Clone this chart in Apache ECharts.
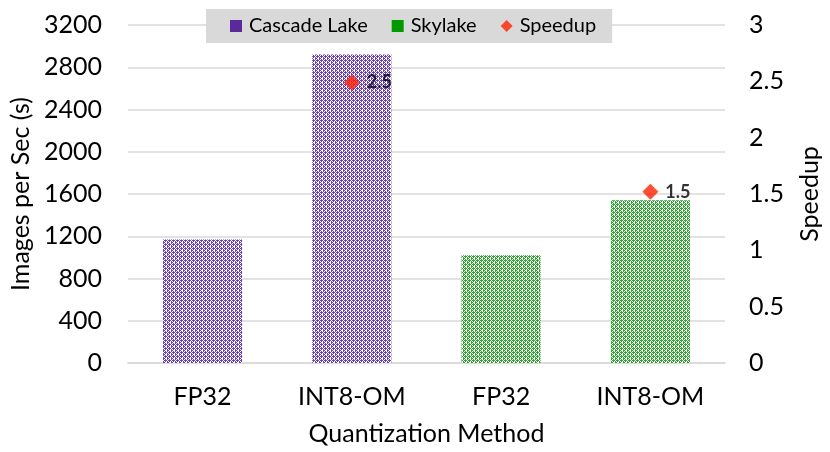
<!DOCTYPE html>
<html>
<head>
<meta charset="utf-8">
<script src="https://cdn.jsdelivr.net/npm/echarts@6/dist/echarts.min.js"></script>
<style>
  html, body { margin: 0; padding: 0; background: #fff; }
  #chart { width: 830px; height: 452px; }
</style>
</head>
<body>
<div id="chart"></div>
<script>
const categories = ["FP32", "INT8-OM", "FP32", "INT8-OM"];
const cascadeLake = [1170, 2920, "-", "-"];
const skylake = ["-", "-", 1020, 1540];
const speedup = ["-", 2.49, "-", 1.52];

const FONT = "Lato";

// small repeating tile, roughly like the office "dotted grid" fill
function patternTile(fg) {
  const c = document.createElement("canvas");
  c.width = 4;
  c.height = 4;
  const ctx = c.getContext("2d");
  ctx.fillStyle = "#ffffff";
  ctx.fillRect(0, 0, 4, 4);
  ctx.fillStyle = fg;
  for (let y = 0; y < 4; y++) {
    for (let x = 0; x < 4; x++) {
      if ((x + y) % 2 === 0 && !(x === 2 && y === 2)) ctx.fillRect(x, y, 1, 1);
    }
  }
  ctx.fillRect(1, 0, 1, 1);
  ctx.fillRect(3, 2, 1, 1);
  return { image: c, repeat: "repeat" };
}

const chart = echarts.init(document.getElementById("chart"), null, { renderer: "canvas" });

chart.setOption({
  backgroundColor: "#ffffff",
  animation: false,
  textStyle: { fontFamily: FONT, color: "#000" },
  grid: { left: 121, right: 92, top: 25, bottom: 89 },
  legend: {
    top: 9,
    left: 206,
    padding: [7, 16, 7, 24],
    backgroundColor: "#d9d9d9",
    itemWidth: 12,
    itemHeight: 12,
    itemGap: 24,
    textStyle: { fontFamily: FONT, fontSize: 20, color: "#000", padding: [0, 0, 0, 2] },
    data: [
      { name: "Cascade Lake", icon: "rect", itemStyle: { color: "#5b2a9a" } },
      { name: "Skylake", icon: "rect", itemStyle: { color: "#009900" } },
      { name: "Speedup", icon: "diamond", itemStyle: { color: "#ff2200" } },
    ],
  },
  xAxis: {
    type: "category",
    data: categories,
    axisLine: { show: true, lineStyle: { color: "#d9d9d9", width: 1.5 } },
    axisTick: { show: false },
    axisLabel: { fontFamily: FONT, fontSize: 25, color: "#000", margin: 21 },
    name: "Quantization Method",
    nameLocation: "middle",
    nameGap: 58,
    nameTextStyle: { fontFamily: FONT, fontSize: 25, color: "#000" },
  },
  yAxis: [
    {
      type: "value",
      min: 0,
      max: 3200,
      interval: 400,
      axisLine: { show: false },
      axisTick: { show: false },
      splitLine: { lineStyle: { color: "#d9d9d9", width: 1.5 } },
      axisLabel: { fontFamily: FONT, fontSize: 25, color: "#000", margin: 26, formatter: (v) => String(v) },
      name: "Images per Sec (s)",
      nameLocation: "middle",
      nameGap: 90,
      nameTextStyle: { fontFamily: FONT, fontSize: 25, color: "#000" },
    },
    {
      type: "value",
      min: 0,
      max: 3,
      interval: 0.5,
      axisLine: { show: false },
      axisTick: { show: false },
      splitLine: { show: false },
      axisLabel: { fontFamily: FONT, fontSize: 25, color: "#000", margin: 24, formatter: (v) => String(v) },
      name: "Speedup",
      nameLocation: "middle",
      nameGap: 72,
      nameRotate: 90,
      nameTextStyle: { fontFamily: FONT, fontSize: 25, color: "#000" },
    },
  ],
  series: [
    {
      name: "Cascade Lake",
      type: "bar",
      data: cascadeLake,
      barWidth: "53%",
      barGap: "-100%",
      itemStyle: { color: patternTile("#6a3fb8") },
    },
    {
      name: "Skylake",
      type: "bar",
      data: skylake,
      barWidth: "53%",
      itemStyle: { color: patternTile("#2ea52e") },
    },
    {
      name: "Speedup",
      type: "scatter",
      yAxisIndex: 1,
      data: speedup,
      symbol: "diamond",
      symbolSize: 16,
      itemStyle: { color: "#ff2200" },
      label: {
        show: true,
        position: "right",
        distance: 7,
        fontFamily: FONT,
        fontSize: 18,
        fontWeight: "bold",
        color: "#000",
        formatter: (p) => p.value.toFixed(1),
      },
      z: 5,
    },
  ],
});
</script>
</body>
</html>
